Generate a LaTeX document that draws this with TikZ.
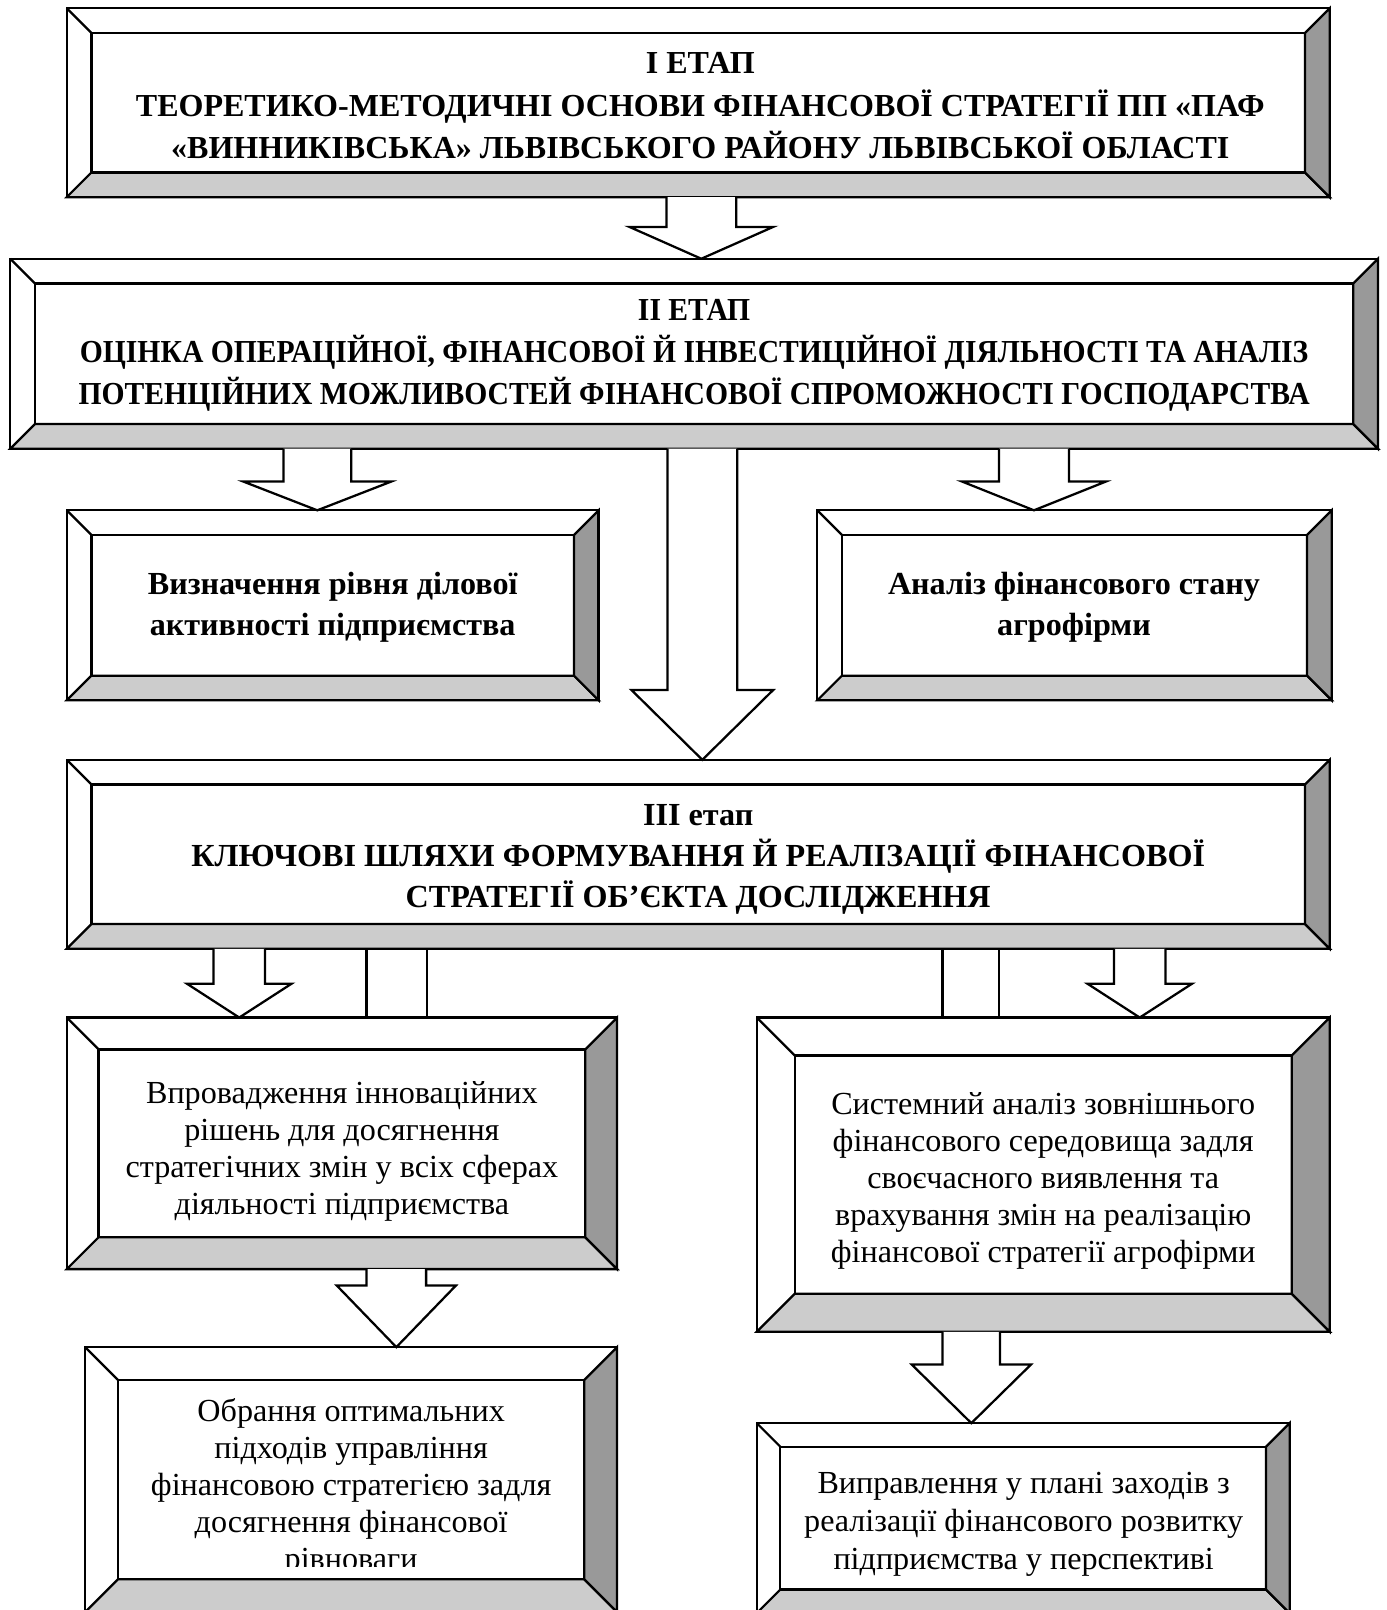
\documentclass[tikz,border=0pt]{standalone}
\usepackage{fontspec}
\setmainfont{Liberation Serif}
\newfontfamily\narrowf[FakeStretch=0.925]{Liberation Serif}
\usetikzlibrary{calc}
\definecolor{bevlight}{HTML}{CCCCCC}
\definecolor{bevdark}{HTML}{999999}
\newcommand{\bev}[6]{%
  \coordinate (#1A) at (#2,#3);
  \coordinate (#1B) at (#4,#5);
  \coordinate (#1C) at ($(#1A)+(#6,#6)$);
  \coordinate (#1D) at ($(#1B)+(-#6,-#6)$);
  \fill[white] (#1A) rectangle (#1B);
  \filldraw[fill=bevlight] (#1A |- #1B) -- (#1C |- #1D) -- (#1D) -- (#1B) -- cycle;
  \filldraw[fill=bevdark] (#1B |- #1A) -- (#1D |- #1C) -- (#1D) -- (#1B) -- cycle;
  \draw (#1A) -- (#1C);
  \draw (#1A) rectangle (#1B);
  \draw (#1C) rectangle (#1D);
}
\newcommand{\barrow}[6]{%
  \draw[fill=white] ({#1-#2},0 |- #4B) -- ({#1-#2},#5) -- ({#1-#3},#5) -- (#1,0 |- #6A)
     -- ({#1+#3},#5) -- ({#1+#2},#5) -- ({#1+#2},0 |- #4B);
}
\tikzset{
  stagetxt/.style={align=center, inner sep=0pt, font=\fontsize{15.6}{20.75}\selectfont\bfseries},
  stagetxtn/.style={align=center, inner sep=0pt, font=\fontsize{15.6}{20.5}\selectfont\narrowf\bfseries},
  boldtxt/.style={align=center, inner sep=0pt, font=\fontsize{15.65}{20}\selectfont\bfseries},
  plaintxt/.style={align=center, inner sep=0pt, font=\fontsize{15.65}{18}\selectfont},
  plaintxtb/.style={align=center, inner sep=0pt, font=\fontsize{15.65}{18.5}\selectfont},
}
\begin{document}
\begin{tikzpicture}[x=0.5pt,y=-0.5pt,line width=1.1pt,line join=miter]
\useasboundingbox (0,0) rectangle (1350,1568);
\clip (0,0) rectangle (1350,1568);
% boxes
\bev{bI}{65}{8}{1295}{192}{24}
\bev{bII}{10}{252}{1342}{437}{24}
\bev{bV}{65}{497}{583}{682}{24}
\bev{bA}{796}{497}{1297}{682}{24}
\bev{bIII}{65}{740}{1295}{924}{24}
\bev{bP}{65}{991}{601}{1236}{31}
\bev{bS}{737}{991}{1295}{1297}{37}
\bev{bO}{83}{1312}{601}{1570}{32}
\bev{bR}{737}{1386}{1256}{1571}{23}
% arrows
\barrow{683}{34}{70}{bI}{221}{bII}
\barrow{309}{33}{72}{bII}{469}{bV}
\barrow{1007}{34}{70}{bII}{469}{bA}
\barrow{684}{34}{69}{bII}{672}{bIII}
\barrow{233}{25}{51}{bIII}{958}{bP}
\barrow{1110}{25}{51}{bIII}{958}{bS}
\barrow{386}{29}{58}{bP}{1252}{bO}
\barrow{946}{28}{58}{bS}{1329}{bR}
\draw (357,0 |- bIIIB) -- (357,0 |- bPA);
\draw (416,0 |- bIIIB) -- (416,0 |- bPA);
\draw (918,0 |- bIIIB) -- (918,0 |- bSA);
\draw (973,0 |- bIIIB) -- (973,0 |- bSA);
% texts
\node[stagetxt] (tI) at (682,103) {I ЕТАП\\ТЕОРЕТИКО-МЕТОДИЧНІ ОСНОВИ ФІНАНСОВОЇ СТРАТЕГІЇ ПП «ПАФ\\«ВИННИКІВСЬКА» ЛЬВІВСЬКОГО РАЙОНУ ЛЬВІВСЬКОЇ ОБЛАСТІ};
\node[stagetxtn] (tII) at (676,346) {II ЕТАП\\ОЦІНКА ОПЕРАЦІЙНОЇ, ФІНАНСОВОЇ Й ІНВЕСТИЦІЙНОЇ ДІЯЛЬНОСТІ ТА АНАЛІЗ\\ПОТЕНЦІЙНИХ МОЖЛИВОСТЕЙ ФІНАНСОВОЇ СПРОМОЖНОСТІ ГОСПОДАРСТВА};
\node[boldtxt] (tV) at (324,591) {Визначення рівня ділової\\активності підприємства};
\node[boldtxt] (tA) at (1046,591) {Аналіз фінансового стану\\агрофірми};
\node[boldtxt] (tIII) at (680,837) {III етап\\КЛЮЧОВІ ШЛЯХИ ФОРМУВАННЯ Й РЕАЛІЗАЦІЇ ФІНАНСОВОЇ\\СТРАТЕГІЇ ОБ’ЄКТА ДОСЛІДЖЕННЯ};
\node[plaintxt] (tP) at (333,1121) {Впровадження інноваційних\\рішень для досягнення\\стратегічних змін у всіх сферах\\діяльності підприємства};
\node[plaintxt] (tS) at (1016,1150) {Системний аналіз зовнішнього\\фінансового середовища задля\\своєчасного виявлення та\\врахування змін на реалізацію\\фінансової стратегії агрофірми};
\begin{scope}
\clip (83,1300) rectangle (601,1526);
\node[plaintxt] (tO) at (342,1449) {Обрання оптимальних\\підходів управління\\фінансовою стратегією задля\\досягнення фінансової\\рівноваги};
\end{scope}
\node[plaintxtb] (tR) at (997,1485) {Виправлення у плані заходів з\\реалізації фінансового розвитку\\підприємства у перспективі};
\end{tikzpicture}
\end{document}
